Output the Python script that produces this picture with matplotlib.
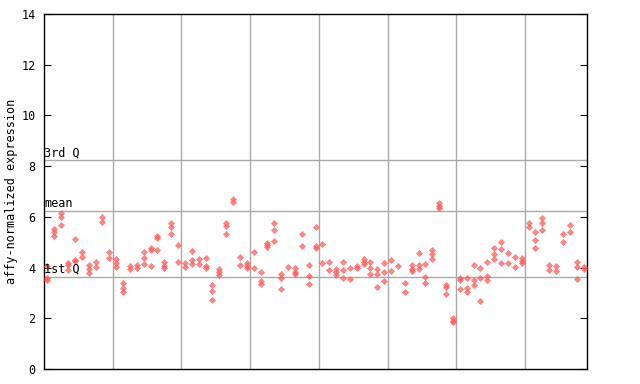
import matplotlib
matplotlib.use("Agg")
import matplotlib.pyplot as plt

# expression values per sample (replicates)
expr = [
    [4.05, 3.6, 3.5], [5.52, 5.39, 5.26], [6.14, 6.01, 5.68], [4.2, 4.1, 3.9],
    [5.13, 4.3, 4.25], [4.63, 4.4], [4.1, 3.93, 3.77], [4.21, 4.03],
    [6.01, 5.78], [4.6, 4.39], [4.32, 4.17, 4.01], [3.38, 3.18, 3.05],
    [4.05, 3.95], [4.1, 4.0], [4.6, 4.37, 4.13], [4.78, 4.69, 4.06],
    [5.23, 5.15, 4.69], [4.22, 4.06, 3.97], [5.74, 5.61, 5.32], [4.89, 4.22],
    [4.17, 4.01], [4.65, 4.3, 4.13], [4.32, 4.13], [4.36, 4.06, 3.97],
    [3.31, 3.08, 2.72], [3.93, 3.84, 3.71], [5.75, 5.65, 5.32], [6.7, 6.6],
    [4.43, 4.1], [4.17, 4.08, 3.97], [4.6, 3.97], [3.81, 3.47, 3.34],
    [4.96, 4.89, 4.81], [5.74, 5.47, 5.05], [3.75, 3.6, 3.15], [4.03],
    [3.97, 3.84, 3.73], [5.32, 4.86], [4.1, 3.67, 3.34], [5.59, 4.86, 4.78],
    [4.92, 4.17], [4.21, 3.92], [3.94, 3.84, 3.71], [4.22, 3.9, 3.58],
    [4.0, 3.53], [4.06, 3.97], [4.32, 4.22, 4.13], [4.21, 4.0, 3.73],
    [3.93, 3.73, 3.23], [4.17, 3.81, 3.47], [4.29, 3.85], [4.08],
    [3.38, 3.05], [4.1, 3.95, 3.85], [4.56, 4.1, 3.93], [4.13, 3.61, 3.38],
    [4.69, 4.53, 4.34], [6.53, 6.44, 6.34], [3.31, 3.23, 2.94], [2.0, 1.9, 1.85],
    [3.6, 3.5, 3.14], [3.6, 3.21, 3.05], [4.1, 3.5, 3.31], [3.97, 3.58, 2.68],
    [4.21, 3.67, 3.5], [4.76, 4.53, 4.32], [4.99, 4.72, 4.17], [4.56, 4.17],
    [4.43, 4.03], [4.39, 4.26, 4.17], [5.74, 5.61], [5.39, 5.09, 4.78],
    [5.94, 5.74, 5.47], [4.1, 3.92], [4.06, 3.87], [5.32, 5.02],
    [5.68, 5.39], [4.21, 4.01, 3.53], [4.03, 3.93],
]
group_edges = [9.5, 19.5, 29.5, 39.5, 49.5, 59.5, 69.5]
q1, mean, q3 = 3.63, 6.23, 8.23
yticks = [0, 2, 4, 6, 8, 10, 12, 14]

MONO = "DejaVu Sans Mono"

fig = plt.figure(figsize=(6.4, 3.84), dpi=100)
ax = fig.add_axes([44 / 640, 15 / 384, 543 / 640, 355 / 384])

for x in group_edges:
    ax.axvline(x, color="#aaaaaa", lw=1, zorder=1)
for y in (q1, mean, q3):
    ax.axhline(y, color="#aaaaaa", lw=1, zorder=1)

for i, vals in enumerate(expr):
    ax.scatter([i] * len(vals), vals, marker="D", s=13, color="#ff5c5c",
               alpha=0.75, linewidths=0, zorder=3)

for y, lab in ((q3, "3rd Q"), (mean, "mean"), (q1, "1st Q")):
    ax.text(-0.5, y + 0.04, lab, fontsize=8.5, family=MONO,
            ha="left", va="bottom", zorder=4)

ax.set_xlim(-0.5, len(expr) - 0.5)
ax.set_ylim(0, 14)
ax.set_xticks([])
ax.set_yticks(yticks)
ax.set_yticklabels([str(t) for t in yticks], family=MONO, fontsize=8.5)
ax.tick_params(axis="y", direction="in", length=5, right=True, pad=6)
ax.set_ylabel("affy-normalized expression", family=MONO, fontsize=8.5)
ax.yaxis.set_label_coords(-0.048, 0.5)
for s in ax.spines.values():
    s.set_color("black")
    s.set_linewidth(1)

fig.savefig("out.png", dpi=100)
